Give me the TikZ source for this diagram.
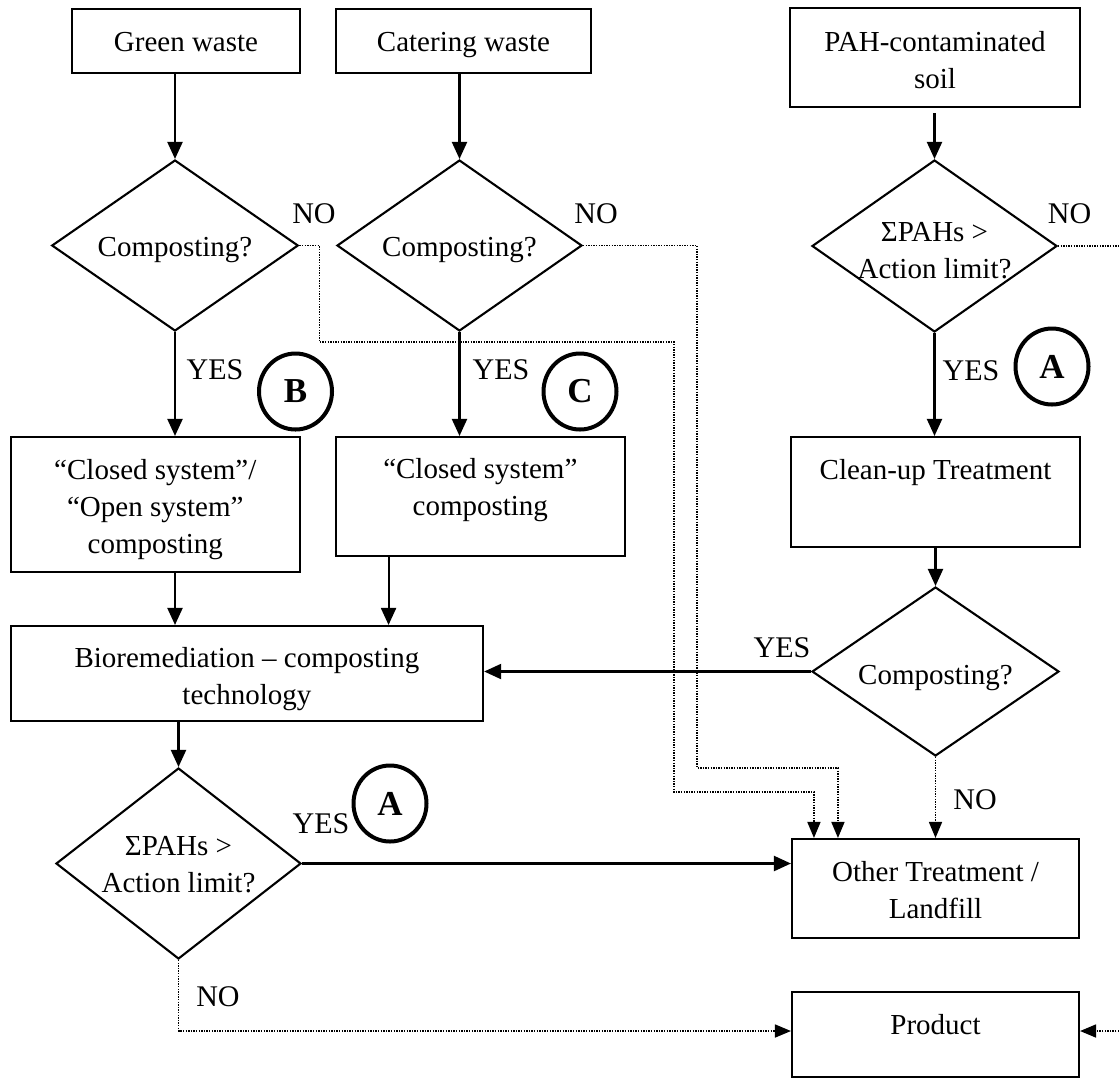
\documentclass[tikz,border=0pt]{standalone}
\usepackage{fontspec}
\setmainfont{Liberation Serif}
\usetikzlibrary{shapes.geometric,arrows.meta,calc}
\newcommand{\ctext}[2][0pt]{\makebox[0pt]{\raisebox{\dimexpr-4.5pt+#1\relax}[0pt][0pt]{\begin{tabular}{@{}c@{}}#2\end{tabular}}}}
\begin{document}
\begin{tikzpicture}[x=0.5pt,y=-0.5pt,
  every node/.style={font=\fontsize{14.5}{18.5}\selectfont},
  box/.style={draw,rectangle,line width=1.05pt,inner sep=0pt},
  dia/.style={draw,diamond,line width=1.05pt,inner sep=0pt},
  ring/.style={draw,ellipse,line width=2pt,inner sep=0pt,minimum width=36.5pt,minimum height=38pt,font=\fontsize{17.5}{20}\selectfont\bfseries},
  lbl/.style={inner sep=0pt,font=\fontsize{15}{18}\selectfont},
  arr/.style={line width=1.05pt,-{Triangle[length=8.5pt,width=7.5pt]}},
  dotarr/.style={line width=0.8pt,dash pattern=on 0.7pt off 0.6pt,-{Triangle[length=8pt,width=6.5pt]}},
  dotln/.style={line width=0.8pt,dash pattern=on 0.7pt off 0.6pt}]
\useasboundingbox (0,0) rectangle (1119,1078);

% boxes
\node[box,minimum width=114pt,minimum height=32pt] (gw) at (186,41) {\ctext[-0.5pt]{Green waste}};
\node[box,minimum width=127.5pt,minimum height=32pt] (cw) at (463.5,41) {\ctext[-0.5pt]{Catering waste}};
\node[box,minimum width=145pt,minimum height=49.5pt] (pah) at (935,57.5) {\ctext[-1.75pt]{PAH-contaminated\\soil}};
\node[box,minimum width=144.65pt,minimum height=67.5pt] (bo) at (155.3,504.5) {\ctext[-1.25pt]{“Closed system”/\\“Open system”\\composting}};
\node[box,minimum width=144.7pt,minimum height=59.5pt] (bc) at (480.3,496.5) {\ctext[4.5pt]{“Closed system”\\composting}};
\node[box,minimum width=144.5pt,minimum height=55pt] (cu) at (935.5,492) {\ctext[11pt]{Clean-up Treatment}};
\node[box,minimum width=236.2pt,minimum height=47.5pt] (bio) at (246.9,673.5) {\ctext[-1.5pt]{Bioremediation – composting\\technology}};
\node[box,minimum width=143.5pt,minimum height=49.5pt] (ot) at (935.5,888.5) {\ctext[-1.25pt]{Other Treatment /\\Landfill}};
\node[box,minimum width=143.5pt,minimum height=42.5pt] (pr) at (935.5,1034.5) {\ctext[4.75pt]{Product}};

% diamonds
\node[dia,minimum width=123.25pt,minimum height=85.5pt] (d1) at (175,245.5) {\ctext[-0.75pt]{Composting?}};
\node[dia,minimum width=122.5pt,minimum height=85.5pt] (d2) at (459.5,245.5) {\ctext[-0.75pt]{Composting?}};
\node[dia,minimum width=122.5pt,minimum height=86pt] (d3) at (934.5,246) {\ctext[-2.25pt]{ΣPAHs >\\Action limit?}};
\node[dia,minimum width=123.5pt,minimum height=84.5pt] (d4) at (935.5,671.5) {\ctext[-1.75pt]{Composting?}};
\node[dia,minimum width=122.5pt,minimum height=95.5pt] (d5) at (178.5,863.5) {\ctext[-0.75pt]{ΣPAHs >\\Action limit?}};

% rings
\node[ring] (rB) at (295.5,391.5) {B};
\node[ring] (rC) at (580,391.5) {C};
\node[ring] (rA1) at (1052,366.5) {A};
\node[ring] (rA2) at (390,803.5) {A};

% labels
\node[lbl] (no1) at (314,214) {NO};
\node[lbl] (no2) at (596,214) {NO};
\node[lbl] (no3) at (1069.5,214) {NO};
\node[lbl] (no4) at (975,800) {NO};
\node[lbl] (no5) at (218,997) {NO};
\node[lbl] (yes1) at (215,370) {YES};
\node[lbl] (yes2) at (501,370) {YES};
\node[lbl] (yes3) at (971,371) {YES};
\node[lbl] (yes4) at (782,648) {YES};
\node[lbl] (yes5) at (321,824) {YES};

% solid arrows
\draw[arr] (d1.north |- gw.south) -- (d1.north);
\draw[arr] (d2.north |- cw.south) -- (d2.north);
\draw[arr,shorten <=2.5pt] (d3.north |- pah.south) -- (d3.north);
\draw[arr] (d1.south) -- (d1.south |- bo.north);
\draw[arr] (d2.south) -- (d2.south |- bc.north);
\draw[arr] (d3.south) -- (d3.south |- cu.north);
\draw[arr] (d1.south |- bo.south) -- (d1.south |- bio.north);
\coordinate (bcx) at ([xshift=27pt]bc.south west);
\draw[arr] (bcx) -- (bcx |- bio.north);
\draw[arr] (d4.north |- cu.south) -- (d4.north);
\draw[arr] (d4.west) -- (d4.west -| bio.east);
\draw[arr] (d5.north |- bio.south) -- (d5.north);
\draw[arr] (d5.east) -- (d5.east -| ot.west);

% dotted connectors
\coordinate (otA) at ([xshift=11.5pt]ot.north west);
\coordinate (otB) at ([xshift=23.5pt]ot.north west);
\draw[dotarr] (d1.east) -- ++(20,0) |- (674,342) -- (674,792) -| (otA);
\draw[dotarr] (d2.east) -| (697,768) -| (otB);
\draw[dotarr] (d4.south) -- (d4.south |- ot.north);
\coordinate (e1) at (1119,246);
\draw[dotln] (d3.east) -- (e1);
\draw[dotarr] (d5.south) |- ([yshift=1.75pt]pr.west);
\coordinate (e2) at (1119,1031);
\draw[dotarr] (e2) -- (e2 -| pr.east);
\end{tikzpicture}
\end{document}
